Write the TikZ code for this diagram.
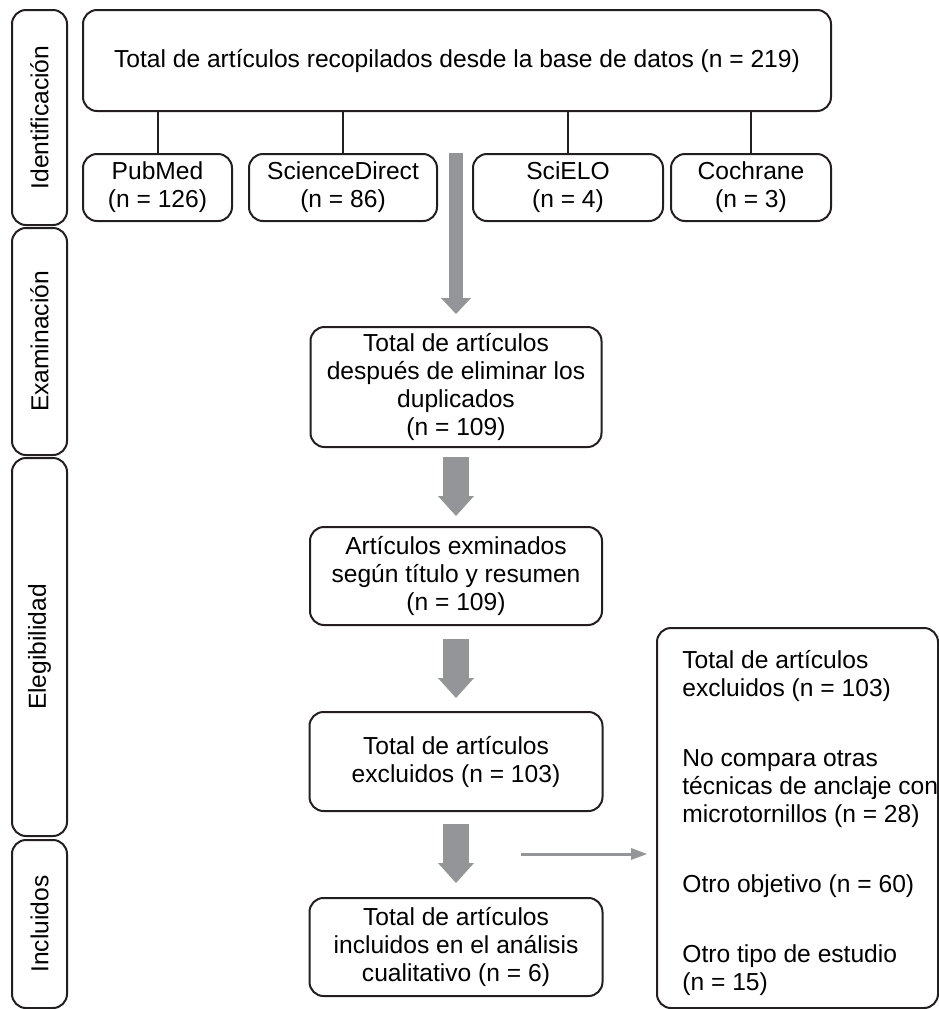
\documentclass[tikz,border=0pt]{standalone}
\usepackage{fontspec}
\setmainfont{Liberation Sans}
\usepackage{tikz}
\usetikzlibrary{positioning, calc, arrows.meta}
\definecolor{framegray}{HTML}{231F20}
\definecolor{arrowgray}{HTML}{939598}

\tikzset{
	box/.style={draw=framegray, line width=1pt, rounded corners=7pt, align=center, inner sep=0pt, font=\fontsize{12.3}{14}\selectfont},
	phase/.style={box, rotate=90, minimum height=27.5pt},
	link/.style={draw=framegray, line width=1pt},
	bigarrow/.style={draw=arrowgray, line width=13pt, -{Triangle[width=18pt, length=10pt, line width=0pt]}},
	longarrow/.style={draw=arrowgray, line width=7pt, -{Triangle[width=15pt, length=8pt, line width=0pt]}},
	thinarrow/.style={draw=arrowgray, line width=1.5pt, -{Triangle[width=6pt, length=8pt, line width=0pt]}}
}

\begin{document}
\begin{tikzpicture}[x=0.5pt, y=-0.5pt]
		\useasboundingbox (0,0) rectangle (939,1009);
		\pgfmathsetmacro{\midx}{456}
		
		% phases on the left
		\node[phase, minimum width=107.5pt] (ident) at (39.5,117.5) {Identificación};
		\node[phase, minimum width=113.5pt] (exam) at (39.5,341.5) {Examinación};
		\node[phase, minimum width=189pt] (eleg) at (39.5,647) {Elegibilidad};
		\node[phase, minimum width=84pt] (incl) at (39.5,924) {Incluidos};
		
		% databases
		\node[box, minimum width=374pt, minimum height=50.5pt] (total) at (457,60.5) {Total de artículos recopilados desde la base de datos (n = 219)};
		\node[box, minimum width=74.5pt, minimum height=33.5pt] (pubmed) at (157.5,187.5) {PubMed\\(n = 126)};
		\node[box, minimum width=94pt, minimum height=33.5pt] (sciencedirect) at (343,187.5) {ScienceDirect\\(n = 86)};
		\node[box, minimum width=95pt, minimum height=33.5pt] (scielo) at (568,187.5) {SciELO\\(n = 4)};
		\node[box, minimum width=80pt, minimum height=33.5pt] (cochrane) at (751,187.5) {Cochrane\\(n = 3)};
		
		\foreach \db in {pubmed, sciencedirect, scielo, cochrane}
			\draw[link] (\db.north) -- (\db.north |- total.south);
		
		% main flow
		\node[box, minimum width=145.5pt, minimum height=60pt] (dup) at (\midx,387) {Total de artículos\\después de eliminar los\\duplicados\\(n = 109)};
		\node[box, minimum width=146pt, minimum height=49pt] (screen) at (\midx,576) {Artículos exminados\\según título y resumen\\(n = 109)};
		\node[box, minimum width=146.5pt, minimum height=49.5pt] (excl) at (\midx,761.5) {Total de artículos\\excluidos (n = 103)};
		\node[box, minimum width=146.5pt, minimum height=49pt] (final) at (\midx,947) {Total de artículos\\incluidos en el análisis\\cualitativo (n = 6)};
		
		\draw[longarrow] (dup.north |- pubmed.north) -- ([yshift=6pt]dup.north);
		\draw[bigarrow] ([yshift=-4.5pt]dup.south) -- ([yshift=5pt]screen.north);
		\draw[bigarrow] ([yshift=-6.5pt]screen.south) -- ([yshift=6.5pt]excl.north);
		\draw[bigarrow] ([yshift=-6pt]excl.south) -- ([yshift=7pt]final.north);
		
		% reasons for exclusion
		\node[box, minimum width=140.5pt, minimum height=190pt] (reasons) at (797.5,818) {};
		\node[font=\fontsize{12.3}{14}\selectfont, align=left, inner sep=0pt, anchor=west] (reasontext) at (682,823)
			{Total de artículos\\excluidos (n = 103)\\[21pt]No compara otras\\técnicas de anclaje con\\microtornillos (n = 28)\\[21pt]Otro objetivo (n = 60)\\[21pt]Otro tipo de estudio\\(n = 15)};
		
		\coordinate (split) at (521,854);
		\draw[thinarrow] (split) -- ([xshift=-4.5pt]split -| reasons.west);
\end{tikzpicture}
\end{document}
